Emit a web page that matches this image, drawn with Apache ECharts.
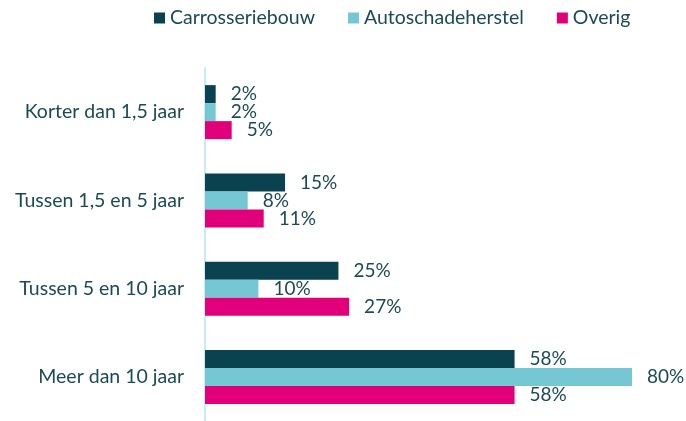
<!DOCTYPE html>
<html>
<head>
<meta charset="utf-8">
<script src="https://cdn.jsdelivr.net/npm/echarts@6/dist/echarts.min.js"></script>
<style>
  html, body { margin: 0; padding: 0; background: #fff; }
  #chart { width: 686px; height: 421px; }
</style>
</head>
<body>
<div id="chart"></div>
<script>
var categories = ['Korter dan 1,5 jaar', 'Tussen 1,5 en 5 jaar', 'Tussen 5 en 10 jaar', 'Meer dan 10 jaar'];
var carrosseriebouw = [2, 15, 25, 58];
var autoschadeherstel = [2, 8, 10, 80];
var overig = [5, 11, 27, 58];

var textColor = '#1b4a56';
var font = 'Lato';

function bar(name, data, color) {
    return {
        name: name,
        type: 'bar',
        data: data,
        barWidth: 18,
        barGap: '0%',
        itemStyle: {color: color},
        label: {
            show: true,
            position: 'right',
            distance: 15,
            formatter: '{c}%',
            color: textColor,
            fontFamily: font,
            fontSize: 19
        }
    };
}

var chart = echarts.init(document.getElementById('chart'));
chart.setOption({
    animation: false,
    legend: {
        top: 3,
        left: 149,
        itemWidth: 11,
        itemHeight: 11,
        itemGap: 33,
        icon: 'rect',
        textStyle: {color: textColor, fontFamily: font, fontSize: 19.5}
    },
    grid: {
        left: 205,
        right: 54,
        top: 68,
        bottom: -3,
        containLabel: false
    },
    xAxis: {
        type: 'value',
        min: 0,
        max: 80,
        show: false
    },
    yAxis: {
        type: 'category',
        inverse: true,
        data: categories,
        axisLine: {show: true, lineStyle: {color: '#c6edf4', width: 2}},
        axisTick: {show: false},
        axisLabel: {
            color: textColor,
            fontFamily: font,
            fontSize: 19.5,
            margin: 21
        }
    },
    series: [
        bar('Carrosseriebouw', carrosseriebouw, '#0b4250'),
        bar('Autoschadeherstel', autoschadeherstel, '#76c7d4'),
        bar('Overig', overig, '#e2007a')
    ]
});
</script>
</body>
</html>
